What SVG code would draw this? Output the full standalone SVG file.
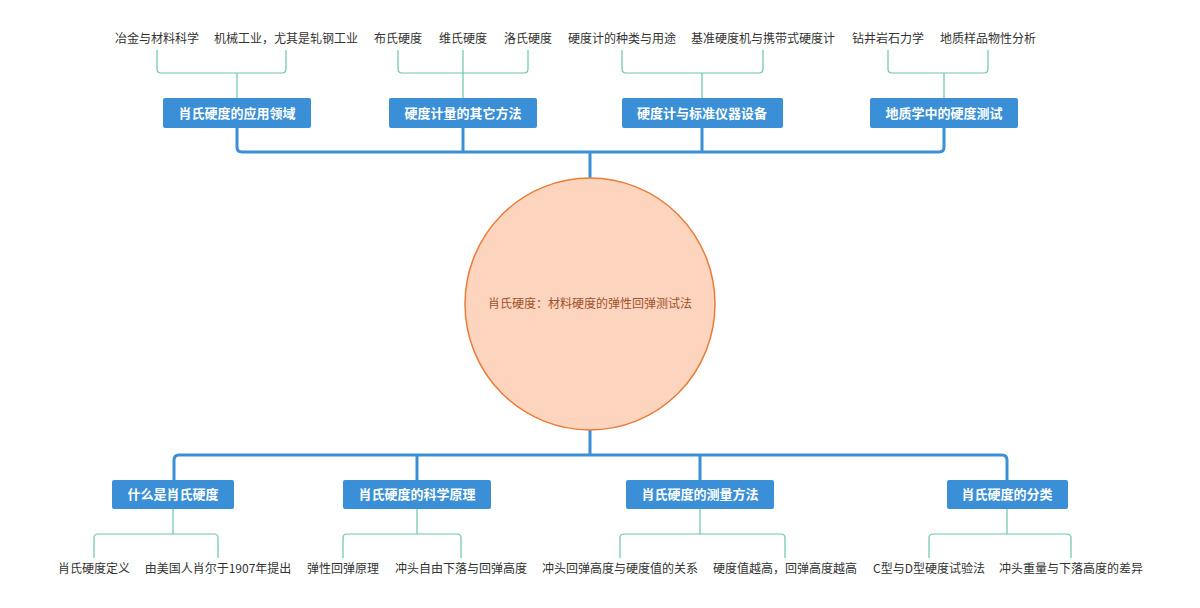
<svg xmlns="http://www.w3.org/2000/svg" width="1200" height="608" viewBox="0 0 1200 608">
<style>
.tr{fill:none;stroke:#3b8fd6;stroke-width:3;stroke-linejoin:round}
.lf{fill:none;stroke:#6cc4b0;stroke-width:1.2}
.bx{fill:#3b8fd6;rx:2}
.nt{font-family:"Noto Sans CJK SC",sans-serif;font-size:13px;font-weight:bold;fill:#fff;text-anchor:middle}
.lt{font-family:"Noto Sans CJK SC",sans-serif;font-size:12px;fill:#333;text-anchor:middle}
</style>
<rect width="1200" height="608" fill="#fff"/>
<g id="connectors">
<path class="tr" d="M590 178V152M237 128V147q0 5 5 5H939q5 0 5-5V128M463 128V152M702 128V152"/>
<path class="tr" d="M590 430V455M174 480V460q0-5 5-5H1002q5 0 5 5V480M417 480V455M700 480V455"/>
<path class="lf" d="M157 50V69q0 4 4 4H282q4 0 4-4V50M237 73V98"/>
<path class="lf" d="M398 50V69q0 4 4 4H524q4 0 4-4V50M463 50V98"/>
<path class="lf" d="M622 50V69q0 4 4 4H759q4 0 4-4V50M702 73V98"/>
<path class="lf" d="M888 50V69q0 4 4 4H984q4 0 4-4V50M944 73V98"/>
<path class="lf" d="M94 558V538q0-4 4-4H214q4 0 4 4V558M173 509V534"/>
<path class="lf" d="M343 558V538q0-4 4-4H457q4 0 4 4V558M417 509V534"/>
<path class="lf" d="M620 558V538q0-4 4-4H781q4 0 4 4V558M700 509V534"/>
<path class="lf" d="M929 558V538q0-4 4-4H1067q4 0 4 4V558M1007 509V534"/>
</g>
<g id="center">
<ellipse cx="590" cy="304" rx="125" ry="126" fill="#fdd5bf" stroke="#ea7d3a" stroke-width="1.5"/>
<text x="590" y="308" font-family="Noto Sans CJK SC,sans-serif" font-size="12" fill="#a0522d" text-anchor="middle">肖氏硬度：材料硬度的弹性回弹测试法</text>
</g>
<g id="n1"><rect class="bx" x="163" y="98" width="148" height="30"/><text class="nt" x="237" y="118">肖氏硬度的应用领域</text></g>
<g id="n2"><rect class="bx" x="389" y="98" width="148" height="30"/><text class="nt" x="463" y="118">硬度计量的其它方法</text></g>
<g id="n3"><rect class="bx" x="622" y="98" width="161" height="30"/><text class="nt" x="702" y="118">硬度计与标准仪器设备</text></g>
<g id="n4"><rect class="bx" x="870" y="98" width="148" height="30"/><text class="nt" x="944" y="118">地质学中的硬度测试</text></g>
<g id="n5"><rect class="bx" x="112" y="480" width="122" height="29"/><text class="nt" x="173" y="499">什么是肖氏硬度</text></g>
<g id="n6"><rect class="bx" x="343" y="480" width="148" height="29"/><text class="nt" x="417" y="499">肖氏硬度的科学原理</text></g>
<g id="n7"><rect class="bx" x="626" y="480" width="148" height="29"/><text class="nt" x="700" y="499">肖氏硬度的测量方法</text></g>
<g id="n8"><rect class="bx" x="947" y="480" width="121" height="29"/><text class="nt" x="1007" y="499">肖氏硬度的分类</text></g>
<g id="leaves">
<text class="lt" x="157" y="43">冶金与材料科学</text>
<text class="lt" x="286" y="43">机械工业，尤其是轧钢工业</text>
<text class="lt" x="398" y="43">布氏硬度</text>
<text class="lt" x="463" y="43">维氏硬度</text>
<text class="lt" x="528" y="43">洛氏硬度</text>
<text class="lt" x="622" y="43">硬度计的种类与用途</text>
<text class="lt" x="763" y="43">基准硬度机与携带式硬度计</text>
<text class="lt" x="888" y="43">钻井岩石力学</text>
<text class="lt" x="988" y="43">地质样品物性分析</text>
<text class="lt" x="94" y="573">肖氏硬度定义</text>
<text class="lt" x="218" y="573">由美国人肖尔于1907年提出</text>
<text class="lt" x="343" y="573">弹性回弹原理</text>
<text class="lt" x="461" y="573">冲头自由下落与回弹高度</text>
<text class="lt" x="620" y="573">冲头回弹高度与硬度值的关系</text>
<text class="lt" x="785" y="573">硬度值越高，回弹高度越高</text>
<text class="lt" x="929" y="573">C型与D型硬度试验法</text>
<text class="lt" x="1071" y="573">冲头重量与下落高度的差异</text>
</g>
</svg>
